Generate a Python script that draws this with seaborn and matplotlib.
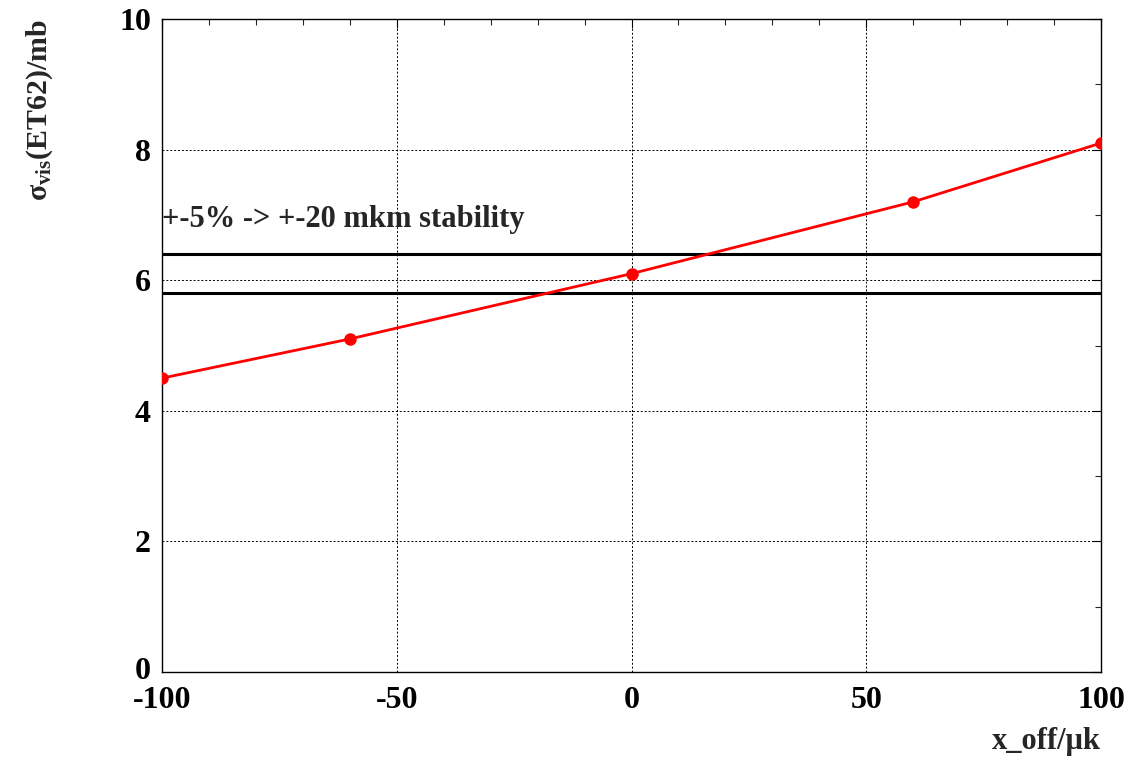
import matplotlib
matplotlib.use("Agg")
import matplotlib.pyplot as plt
import matplotlib.transforms as mtransforms
import seaborn as sns
import pandas as pd
from matplotlib.ticker import MultipleLocator

# measured visible cross-section vs. beam x offset
x_off = [-100, -60, 0, 60, 100]
sigma_vis = [4.5, 5.1, 6.1, 7.2, 8.1]

# +-5% stability band around the nominal value
band_levels = [6.4, 5.8]
band_text = "+-5% -> +-20 mkm stability"

x_ticks = [-100, -50, 0, 50, 100]
y_ticks = [0, 2, 4, 6, 8, 10]

sns.set_style("white")
plt.rcParams["font.family"] = ["Liberation Serif", "DejaVu Serif"]
plt.rcParams["font.weight"] = "bold"
plt.rcParams["mathtext.fontset"] = "custom"
plt.rcParams["mathtext.rm"] = "Liberation Serif:bold"
plt.rcParams["mathtext.it"] = "Liberation Serif:bold"
plt.rcParams["mathtext.bf"] = "Liberation Serif:bold"
plt.rcParams["mathtext.default"] = "rm"

fig = plt.figure(figsize=(11.44, 7.57), dpi=100)
ax = fig.add_axes([162 / 1144, 1 - 672 / 757, (1101 - 162) / 1144, (672 - 19) / 757])

df = pd.DataFrame({"x": x_off, "y": sigma_vis})
sns.lineplot(data=df, x="x", y="y", ax=ax, color="#ff0000", linewidth=2.0,
             marker="o", markersize=9, markeredgewidth=0, zorder=5)

for lvl in band_levels:
    ax.axhline(lvl, color="black", linewidth=2.2, zorder=4)

ax.text(-100, 6.82, band_text, fontsize=22, fontweight="bold", ha="left",
        va="baseline", zorder=6)

ax.set_xlim(-100, 100)
ax.set_ylim(0, 10)
ax.set_xticks(x_ticks)
ax.set_yticks(y_ticks)
ax.set_xticklabels([str(v) for v in x_ticks])
ax.set_yticklabels([str(v) for v in y_ticks])
ax.xaxis.set_minor_locator(MultipleLocator(10))
ax.yaxis.set_minor_locator(MultipleLocator(1))
ax.tick_params(axis="both", which="major", direction="in", length=6.5, width=0.8,
               top=True, right=True, labelsize=23, colors="black")
ax.tick_params(axis="x", which="major", pad=10)
ax.tick_params(axis="y", which="major", pad=8)
ax.tick_params(axis="both", which="minor", direction="in", length=4.3, width=0.8,
               top=True, right=True)
for lab in ax.get_xticklabels() + ax.get_yticklabels():
    lab.set_fontweight("bold")

# lift the lowest y label a little so it clears the first x label
zero_lab = ax.get_yticklabels()[0]
zero_lab.set_transform(zero_lab.get_transform()
                       + mtransforms.ScaledTranslation(0, 4 / 100, fig.dpi_scale_trans))

ax.grid(True, which="major", color="black", linestyle=(0, (2, 2)), linewidth=0.7)
for sp in ax.spines.values():
    sp.set_color("black")
    sp.set_linewidth(1.0)

ax.set_xlabel("")
ax.set_ylabel("")
fig.text(40 / 1144, 1 - 19 / 757, r"$\mathrm{σ}_{\mathrm{vis}}$(ET62)/mb", rotation=90,
         ha="center", va="top", fontsize=21.5, fontweight="bold")
fig.text(1101 / 1144, 1 - 741 / 757, "x_off/μk", ha="right", va="center",
         fontsize=22, fontweight="bold")

fig.savefig("out.png", dpi=100, facecolor="white")
